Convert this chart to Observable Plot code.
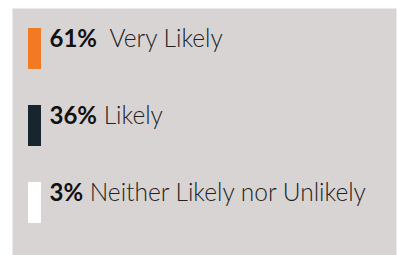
<!DOCTYPE html>
<html><head><meta charset="utf-8">
<script src="https://cdn.jsdelivr.net/npm/d3@7"></script>
<script src="https://cdn.jsdelivr.net/npm/@observablehq/plot@0.6"></script>
<style>body{margin:0;background:#fff}</style>
</head><body><div id="chart"></div>
<script>
const categories = ["Very Likely", "Likely", "Neither Likely nor Unlikely"];
const shares = [61, 36, 3];
const colors = ["#f37a22", "#17252f", "#ffffff"];
const data = categories.map((c, i) => ({label: c, pct: shares[i], color: colors[i]}));

const chart = Plot.plot({
  width: 397, height: 255,
  marginLeft: 12, marginTop: 8, marginRight: 1, marginBottom: 0,
  style: {fontFamily: "Lato, sans-serif", background: "transparent"},
  x: {type: "band", domain: ["swatch"], range: [28, 41], padding: 0, axis: null},
  y: {type: "band", domain: categories, range: [27, 225], paddingInner: 0.4615, paddingOuter: 0, axis: null},
  color: {type: "identity"},
  marks: [
    Plot.frame({fill: "#d8d4d4", stroke: null}),
    Plot.cell(data, {x: () => "swatch", y: "label", fill: "color", inset: 0}),
    Plot.text(data, {
      x: () => "swatch", y: "label", text: d => `${d.pct}%`,
      textAnchor: "start", dx: 14.5, dy: -9.7, fontSize: 24, fill: "#111",
      render(index, scales, values, dimensions, context, next) {
        const g = next(index, scales, values, dimensions, context);
        d3.select(g).selectAll("text").each(function(d, k) {
          const i = typeof d === "number" ? d : index[k];
          const t = d3.select(this);
          t.text(null).style("white-space", "pre");
          t.append("tspan").attr("font-weight", 700).attr("fill", "#111").text(`${data[i].pct}%`);
          t.append("tspan").attr("font-weight", 300).attr("font-size", 24.5).attr("fill", "#222")
            .text((i === 0 ? "  " : " ") + data[i].label);
        });
        return g;
      }
    })
  ]
});
document.getElementById("chart").append(chart);
</script></body></html>
